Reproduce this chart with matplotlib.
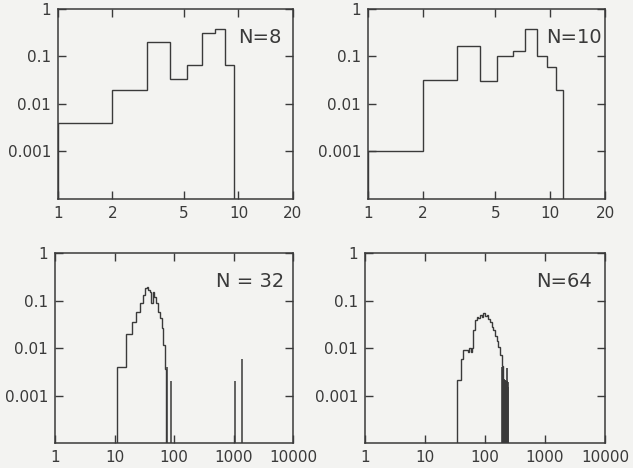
import numpy as np
import matplotlib
matplotlib.use("Agg")
import matplotlib.pyplot as plt
from matplotlib.ticker import NullLocator

# datos
# N = 8
edges8 = [1, 2, 3.1, 4.15, 5.2, 6.3, 7.4, 8.4, 9.5]
vals8 = [0.004, 0.02, 0.2, 0.033, 0.065, 0.31, 0.37, 0.065]

# N = 10
edges10 = [1, 2, 3.06, 4.14, 5.13, 6.23, 7.24, 8.42, 9.58, 10.7, 11.8]
vals10 = [0.001, 0.0315, 0.164, 0.030, 0.1, 0.128, 0.38, 0.1, 0.059, 0.02]

# N = 32
edges32 = [11.2, 15.6, 19.4, 23.0, 26.8, 29.7, 32.6, 34.7, 37.0, 39.5, 41.1,
           43.8, 46.7, 49.8, 53.8, 58.2, 62.0, 66.2, 69.7, 73.4]
vals32 = [0.004, 0.02, 0.036, 0.058, 0.087, 0.13, 0.18, 0.195, 0.166, 0.153,
          0.09, 0.15, 0.12, 0.087, 0.058, 0.042, 0.026, 0.0116, 0.0037]
spikes32_x = [76.5, 88.5, 1060, 1385]
spikes32_y = [0.004, 0.002, 0.002, 0.006]

# N = 64
edges64 = [34.6, 39.3, 43.5, 52.8, 54.8, 57.7, 60.0, 63.9, 68.1, 72.6, 77.4,
           82.5, 88.0, 93.8, 100, 106.6, 113.6, 121.2, 129.2, 137.7, 146.8,
           156.5, 166.8, 177.8, 189.6, 202.1]
vals64 = [0.0021, 0.0058, 0.0091, 0.0084, 0.0099, 0.0084, 0.0099, 0.024,
          0.039, 0.046, 0.042, 0.050, 0.046, 0.054, 0.048, 0.050, 0.040,
          0.036, 0.028, 0.024, 0.0175, 0.014, 0.0107, 0.0072, 0.0041]
spikes64_x = [193, 197, 200, 204, 208, 212, 216, 220, 224, 229, 233, 237, 241, 245]
spikes64_y = [0.004, 0.0035, 0.004, 0.0022, 0.002, 0.0021, 0.002, 0.0021,
              0.002, 0.0038, 0.002, 0.002, 0.0019, 0.0015]

yticks = [0.001, 0.01, 0.1, 1]
ylabels = ['0.001', '0.01', '0.1', '1']
xticks_a = [1, 2, 5, 10, 20]
xticks_b = [1, 10, 100, 1000, 10000]

bg = '#f3f3f1'
ink = '#3a3a3a'

fig = plt.figure(figsize=(6.33, 4.68), dpi=100, facecolor=bg)

pos = [
    [0.0916, 0.575, 0.371, 0.406],
    [0.5814, 0.575, 0.3744, 0.406],
    [0.0869, 0.0534, 0.376, 0.406],
    [0.5766, 0.0534, 0.379, 0.406],
]


def preparar(ax, xlim, xticks, titulo, tx):
    ax.set_facecolor(bg)
    ax.set_xscale('log')
    ax.set_yscale('log')
    ax.set_xlim(*xlim)
    ax.set_ylim(1e-4, 1)
    ax.set_xticks(xticks)
    ax.set_xticklabels([str(v) for v in xticks])
    ax.set_yticks(yticks)
    ax.set_yticklabels(ylabels)
    ax.xaxis.set_minor_locator(NullLocator())
    ax.yaxis.set_minor_locator(NullLocator())
    ax.tick_params(direction='in', top=True, right=True, length=6, width=1,
                   labelsize=11, colors=ink, pad=5)
    for s in ax.spines.values():
        s.set_color(ink)
        s.set_linewidth(1.1)
    ax.text(tx, 0.85, titulo, transform=ax.transAxes, fontsize=14,
            color=ink, ha='center', va='center')


ax1 = fig.add_axes(pos[0])
preparar(ax1, (1, 20), xticks_a, 'N=8', 0.86)
ax1.stairs(vals8, edges8, baseline=1e-6, color=ink, lw=1)

ax2 = fig.add_axes(pos[1])
preparar(ax2, (1, 20), xticks_a, 'N=10', 0.87)
ax2.stairs(vals10, edges10, baseline=1e-6, color=ink, lw=1)

ax3 = fig.add_axes(pos[2])
preparar(ax3, (1, 10000), xticks_b, 'N = 32', 0.82)
ax3.stairs(vals32, edges32, baseline=1e-6, color=ink, lw=1)
ax3.vlines(spikes32_x, 1e-6, spikes32_y, color=ink, lw=1.1)

ax4 = fig.add_axes(pos[3])
preparar(ax4, (1, 10000), xticks_b, 'N=64', 0.83)
ax4.stairs(vals64, edges64, baseline=1e-6, color=ink, lw=1)
ax4.vlines(spikes64_x, 1e-6, spikes64_y, color=ink, lw=1.2)

fig.savefig('out.png', dpi=100, facecolor=bg)
